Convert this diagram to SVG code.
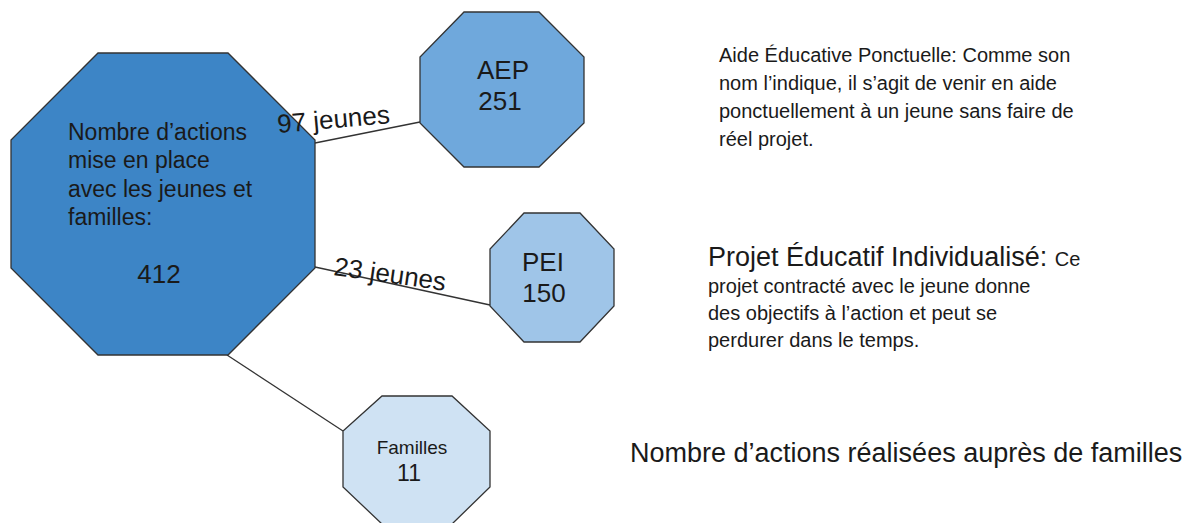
<svg xmlns="http://www.w3.org/2000/svg" width="1193" height="523" viewBox="0 0 1193 523">
<style>
text{font-family:"Liberation Sans",Arial,sans-serif;fill:#1a1a1a}
.oct{stroke:#333;stroke-width:1.3}
.con{stroke:#333;stroke-width:1.3;fill:none}
.mid{text-anchor:middle}
</style>
<rect width="1193" height="523" fill="#fff"/>
<g id="connectors">
<line class="con" x1="315" y1="143" x2="420" y2="122"/>
<line class="con" x1="315" y1="267" x2="490" y2="305"/>
<line class="con" x1="227" y1="355" x2="343" y2="431"/>
</g>
<g id="node-total">
<polygon class="oct" fill="#3d85c6" points="98,53 228,53 315,140 315,268 228,355 98,355 11,268 11,140"/>
<text x="68" y="140" font-size="23">Nombre d’actions</text>
<text x="68" y="168" font-size="23">mise en place</text>
<text x="68" y="197" font-size="23">avec les jeunes et</text>
<text x="68" y="225" font-size="23">familles:</text>
<text class="mid" x="159" y="283" font-size="26">412</text>
</g>
<g id="node-aep">
<polygon class="oct" fill="#6fa8dc" points="464,12 539,12 584,57 584,123 539,167 464,167 420,123 420,57"/>
<text class="mid" x="503" y="79" font-size="26">AEP</text>
<text class="mid" x="500" y="110" font-size="26">251</text>
</g>
<g id="node-pei">
<polygon class="oct" fill="#9fc5e8" points="524,213 580,213 614,249 614,306 580,342 524,342 490,306 490,249"/>
<text class="mid" x="543" y="271" font-size="26">PEI</text>
<text class="mid" x="544" y="302" font-size="26">150</text>
</g>
<g id="node-familles">
<polygon class="oct" fill="#cfe2f3" points="382,396 452,396 490,431 490,487 452,524 382,524 343,487 343,431"/>
<text class="mid" x="412" y="454" font-size="19">Familles</text>
<text class="mid" x="409" y="481" font-size="23">11</text>
</g>
<g id="labels">
<text x="278" y="133" font-size="26" transform="rotate(-5 278 133)">97 jeunes</text>
<text x="333" y="275" font-size="26" transform="rotate(8 333 275)">23 jeunes</text>
</g>
<g id="desc-aep">
<text x="719" y="62" font-size="20">Aide Éducative Ponctuelle: Comme son</text>
<text x="719" y="90" font-size="20">nom l’indique, il s’agit de venir en aide</text>
<text x="719" y="118" font-size="20">ponctuellement à un jeune sans faire de</text>
<text x="719" y="146" font-size="20">réel projet.</text>
</g>
<g id="desc-pei">
<text x="708" y="266" font-size="27">Projet Éducatif Individualisé: <tspan font-size="20">Ce</tspan></text>
<text x="708" y="293" font-size="20">projet contracté avec le jeune donne</text>
<text x="708" y="320" font-size="20">des objectifs à l’action et peut se</text>
<text x="708" y="347" font-size="20">perdurer dans le temps.</text>
</g>
<g id="desc-familles">
<text x="630" y="462" font-size="27">Nombre d’actions réalisées auprès de familles</text>
</g>
</svg>
